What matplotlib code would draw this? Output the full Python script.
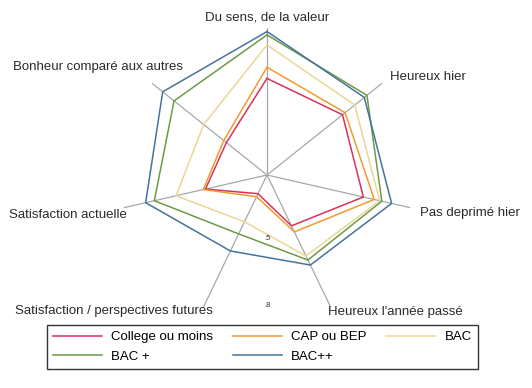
import numpy as np
import matplotlib
matplotlib.use("Agg")
import matplotlib.pyplot as plt

plt.rcParams['font.family'] = ['Liberation Sans', 'DejaVu Sans']

axes_names = ["Du sens, de la valeur", "Heureux hier", "Pas deprimé hier",
              "Heureux l'année passé", "Satisfaction / perspectives futures",
              "Satisfaction actuelle", "Bonheur comparé aux autres"]

groups = ["College ou moins", "CAP ou BEP", "BAC", "BAC +", "BAC++"]
college = [0.65, 0.65, 0.66, 0.47, 0.31, 0.50, 0.45]
cap_bep = [0.70, 0.665, 0.71, 0.50, 0.325, 0.51, 0.465]
bac = [0.80, 0.72, 0.735, 0.62, 0.45, 0.635, 0.58]
bac_plus = [0.845, 0.79, 0.745, 0.64, 0.51, 0.735, 0.75]
bac_pp = [0.86, 0.775, 0.79, 0.665, 0.595, 0.775, 0.815]
series = [college, cap_bep, bac, bac_plus, bac_pp]
colors = ["#d6335a", "#f29a2e", "#ead797", "#6e9a44", "#44739e"]

rmin, rmax = 0.217, 0.876
rticks = [0.5, 0.8]

n = len(axes_names)
theta = np.arange(n) * 2 * np.pi / n

fig = plt.figure(figsize=(5.32, 3.88), dpi=100)
ax = fig.add_axes([120/532, 66/388, 294/532, 294/388], projection='polar')
ax.set_theta_zero_location('N')
ax.set_theta_direction(-1)
ax.set_ylim(rmin, rmax)
ax.grid(False)
ax.spines['polar'].set_visible(False)
ax.set_xticks([])
ax.set_yticks([])
ax.patch.set_alpha(0)

# spokes
for t in theta:
    ax.plot([t, t], [rmin, rmax], color="#a8a8a8", lw=0.9, zorder=1)

lines = []
for vals, c, name in zip(series, colors, groups):
    th = np.append(theta, theta[0])
    v = np.append(vals, vals[0])
    l, = ax.plot(th, v, color=c, lw=1.1, label=name, zorder=2)
    lines.append(l)

for r in rticks:
    ax.text(np.pi, r, ("%.1f" % r)[1:], fontsize=5.5, ha='center', va='center', color="#333333")

# spoke labels (angle deg, radius, ha, va)
lab_pos = [(0, 0.894, 'center', 'bottom'),
           (51.5, 0.921, 'left', 'center'),
           (104, 0.925, 'left', 'center'),
           (156, 0.890, 'left', 'center'),
           (201.7, 0.872, 'right', 'center'),
           (254, 0.872, 'right', 'center'),
           (320.5, 0.810, 'right', 'bottom')]
for name, (a, r, ha, va) in zip(axes_names, lab_pos):
    ax.text(np.deg2rad(a), r, name, ha=ha, va=va, fontsize=9.5, color="#2a2a2a")

# legend filled row by row like the original
order = [0, 3, 1, 4, 2]
leg = fig.legend([lines[i] for i in order], [groups[i] for i in order],
                 loc='center', bbox_to_anchor=(262.5/532, 1 - 347/388),
                 bbox_transform=fig.transFigure, ncol=3, fontsize=9.5,
                 handlelength=3.7, handletextpad=0.7, columnspacing=1.5,
                 labelspacing=0.55, borderpad=0.45, fancybox=False, framealpha=1)
leg.get_frame().set_edgecolor("#333333")
leg.get_frame().set_linewidth(1.0)

fig.savefig("out.png", dpi=100, facecolor='white')
